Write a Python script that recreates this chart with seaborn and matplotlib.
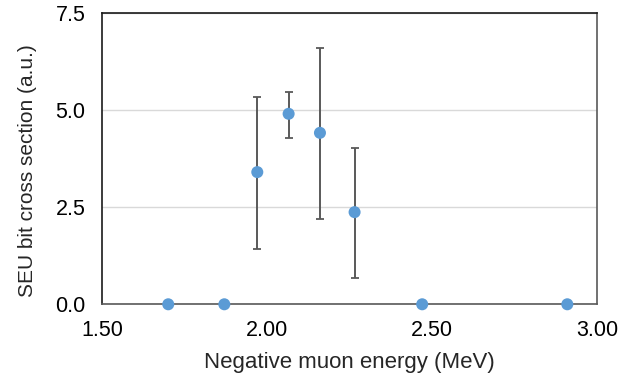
import matplotlib
matplotlib.use("Agg")
import matplotlib.pyplot as plt
import seaborn as sns
import numpy as np
import pandas as pd

energy = [1.70, 1.87, 1.97, 2.065, 2.16, 2.265, 2.47, 2.91]
cross_section = [0.0, 0.0, 3.40, 4.90, 4.41, 2.37, 0.0, 0.0]
err_low = [0.0, 0.0, 1.99, 0.63, 2.22, 1.69, 0.0, 0.0]
err_high = [0.0, 0.0, 1.93, 0.56, 2.18, 1.65, 0.0, 0.0]
x_ticks = [1.50, 2.00, 2.50, 3.00]
y_ticks = [0.0, 2.5, 5.0, 7.5]

sns.set_theme(style="white")
plt.rcParams['font.family'] = ['Liberation Sans', 'DejaVu Sans']

df = pd.DataFrame({"energy": energy, "xs": cross_section,
                   "lo": err_low, "hi": err_high})

fig = plt.figure(figsize=(6.31, 3.84), dpi=100)
ax = fig.add_axes([0.1621, 0.2076, 0.784, 0.7593])

ax.set_xlim(1.5, 3.0)
ax.set_ylim(0, 7.5)
ax.set_yticks(y_ticks)
ax.set_xticks(x_ticks)
ax.yaxis.grid(True, color="#D9D9D9", linewidth=1.0)
ax.set_axisbelow(True)

eb = df[df["xs"] > 0]
ax.errorbar(eb["energy"], eb["xs"], yerr=[eb["lo"], eb["hi"]], fmt="none",
            ecolor="#595959", elinewidth=1.4, capsize=2.6, capthick=1.3, zorder=2)

sns.scatterplot(data=df, x="energy", y="xs", ax=ax, color="#5B9BD5", s=75,
                edgecolor="none", zorder=3, clip_on=False)

ax.set_xticklabels([f"{v:.2f}" for v in x_ticks])
ax.set_yticklabels([f"{v:.1f}" for v in y_ticks])
ax.tick_params(axis="x", direction="in", length=4, width=1, color="#404040",
               labelsize=15.5, pad=11, labelcolor="#000000")
ax.tick_params(axis="y", length=0, labelsize=15.5, pad=12, labelcolor="#000000")
ax.tick_params(axis="x", which="both", top=False)

for side in ["left", "top"]:
    ax.spines[side].set_color("#1a1a1a")
    ax.spines[side].set_linewidth(1.2)
for side in ["right", "bottom"]:
    ax.spines[side].set_color("#595959")
    ax.spines[side].set_linewidth(1.2)

ax.set_xlabel("Negative muon energy (MeV)", fontsize=16)
ax.set_ylabel("SEU bit cross section (a.u.)", fontsize=15)
ax.xaxis.set_label_coords(0.5, -0.163)
ax.yaxis.set_label_coords(-0.132, 0.46)

fig.savefig("out.png", dpi=100)
